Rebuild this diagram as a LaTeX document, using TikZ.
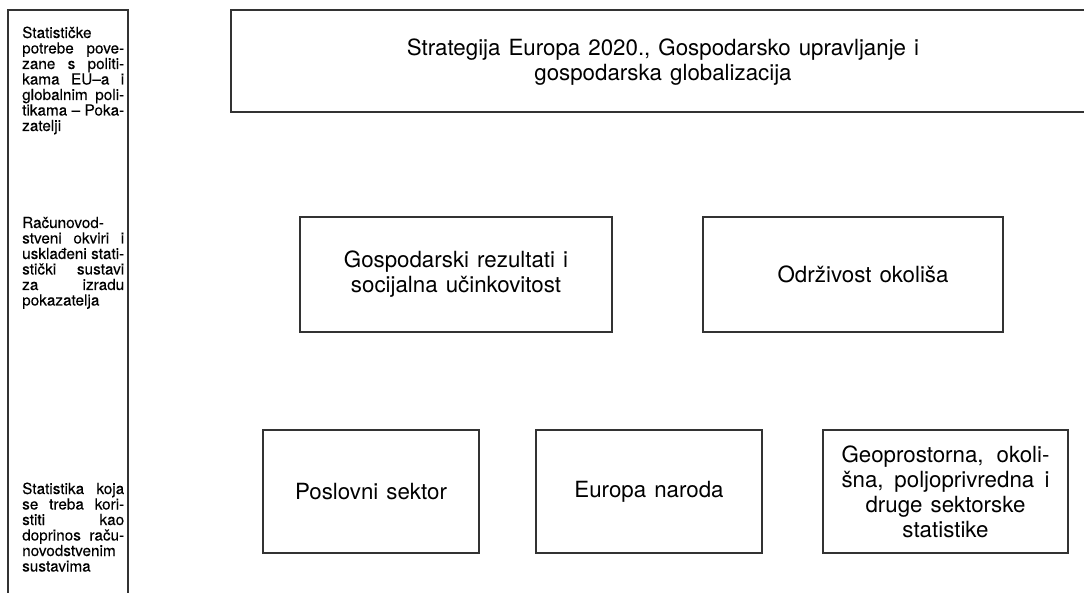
\documentclass[tikz,border=0pt]{standalone}
\usepackage{fontspec}
\newfontfamily\hvA{TeX Gyre Heros}[FakeBold=0.15]
\newfontfamily\hvB{TeX Gyre Heros}[WordSpace=1.3]
\newcommand\boxfont{\hvB\fontsize{22.3}{25}\selectfont}
\newcommand\lcfont{\hvA\fontsize{15.3}{15.5}\selectfont}
\newlength\lcw \setlength\lcw{102pt}
\newcommand\jst[1]{\makebox[\lcw][s]{#1}}
\newcommand\lft[1]{\makebox[\lcw][l]{#1}}
\begin{document}
\begin{tikzpicture}[x=1pt,y=-1pt,
  frame/.style={draw=black!80, line width=1.3pt},
  box/.style={frame, inner sep=0, align=center, font=\boxfont, text=black},
  lc/.style={anchor=base west, inner sep=0, font=\lcfont, text=black}]
\fill[white] (0,0) rectangle (1084,593);
\useasboundingbox (0,0) rectangle (1084,593);

% open frames
\draw[frame] (8,595) -- (8,10) -- (128,10) -- (128,595);
\draw[frame] (1086,10) -- (231,10) -- (231,112) -- (1086,112);

% left column, block 1
\node[lc] (a1) at (22,38)    {\lft{Statističke}};
\node[lc] (a2) at (22,53.5)  {\jst{potrebe pove-}};
\node[lc] (a3) at (22,69)    {\jst{zane s politi-}};
\node[lc] (a4) at (22,84.5)  {\jst{kama EU–a i}};
\node[lc] (a5) at (22,100)   {\jst{globalnim poli-}};
\node[lc] (a6) at (22,115.5) {\jst{tikama – Poka-}};
\node[lc] (a7) at (22,131)   {\lft{zatelji}};
% block 2
\node[lc] (b1) at (22,228)   {\lft{Računovod-}};
\node[lc] (b2) at (22,243.5) {\jst{stveni okviri i}};
\node[lc] (b3) at (22,259)   {\jst{usklađeni stati-}};
\node[lc] (b4) at (22,274.5) {\jst{stički sustavi}};
\node[lc] (b5) at (22,290)   {\jst{za izradu}};
\node[lc] (b6) at (22,305.5) {\lft{pokazatelja}};
% block 3
\node[lc] (c1) at (22,494)   {\jst{Statistika koja}};
\node[lc] (c2) at (22,509.5) {\jst{se treba kori-}};
\node[lc] (c3) at (22,525)   {\jst{stiti kao}};
\node[lc] (c4) at (22,540.5) {\jst{doprinos raču-}};
\node[lc] (c5) at (22,556)   {\lft{novodstvenim}};
\node[lc] (c6) at (22,571.5) {\lft{sustavima}};

% top text
\node[inner sep=0, align=center, font=\boxfont, text=black] (strat) at (663,62)
  {Strategija Europa 2020., Gospodarsko upravljanje i\\gospodarska globalizacija};

% boxes
\node[box, minimum width=312pt, minimum height=115pt] (eco) at (456,274.5)
  {Gospodarski rezultati i\\socijalna učinkovitost};
\node[box, minimum width=300pt, minimum height=115pt] (env) at (853,274.5)
  {\hspace*{20pt}Održivost okoliša};
\node[box, minimum width=216pt, minimum height=123pt] (bus) at (371,491.5)
  {Poslovni sektor};
\node[box, minimum width=226pt, minimum height=123pt] (peo) at (649,491.5)
  {Europa naroda};
\node[box, minimum width=245pt, minimum height=123pt] (geo) at (945.5,491.5)
  {\makebox[208pt][s]{Geoprostorna, okoli-}\\\makebox[208pt][s]{šna, poljoprivredna i}\\druge sektorske\\statistike};
\end{tikzpicture}
\end{document}
